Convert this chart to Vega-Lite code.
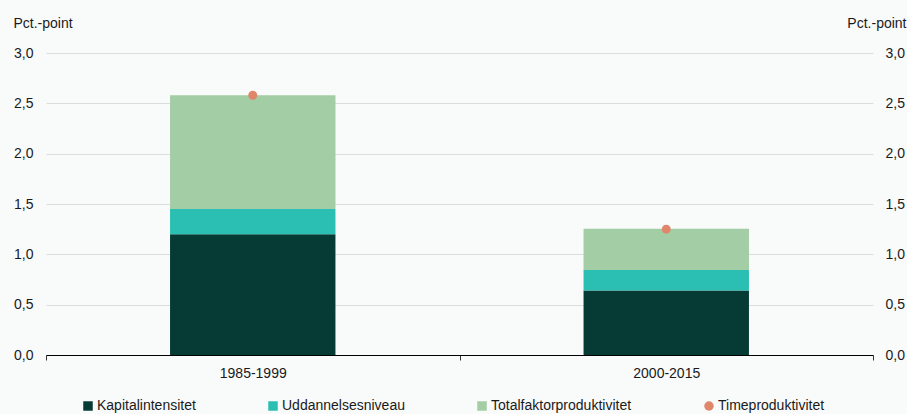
{
  "$schema": "https://vega.github.io/schema/vega-lite/v6.json",
  "width": 827,
  "height": 302,
  "autosize": {"type": "none"},
  "padding": {"left": 46, "top": 53, "right": 34, "bottom": 59},
  "background": "#f9fafa",
  "config": {
    "font": "Liberation Sans",
    "view": {"stroke": null},
    "axis": {"labelFont": "Liberation Sans", "titleFont": "Liberation Sans", "labelFontSize": 14, "titleFontSize": 14, "labelColor": "#1a1a1a", "titleColor": "#1a1a1a", "titleFontWeight": "normal"},
    "legend": {"labelFont": "Liberation Sans", "labelFontSize": 14, "labelColor": "#1a1a1a"}
  },
  "datasets": {
    "bars": [
      {"periode": "1985-1999", "serie": "Kapitalintensitet", "value": 1.20, "ord": 1},
      {"periode": "1985-1999", "serie": "Uddannelsesniveau", "value": 0.25, "ord": 2},
      {"periode": "1985-1999", "serie": "Totalfaktorproduktivitet", "value": 1.13, "ord": 3},
      {"periode": "2000-2015", "serie": "Kapitalintensitet", "value": 0.64, "ord": 1},
      {"periode": "2000-2015", "serie": "Uddannelsesniveau", "value": 0.205, "ord": 2},
      {"periode": "2000-2015", "serie": "Totalfaktorproduktivitet", "value": 0.41, "ord": 3}
    ],
    "dots": [
      {"periode": "1985-1999", "serie": "Timeproduktivitet", "value": 2.58},
      {"periode": "2000-2015", "serie": "Timeproduktivitet", "value": 1.25}
    ]
  },
  "encoding": {
    "x": {
      "field": "periode",
      "type": "nominal",
      "sort": ["1985-1999", "2000-2015"],
      "scale": {"paddingInner": 0, "paddingOuter": 0},
      "axis": {
        "title": null,
        "labelAngle": 0,
        "labelFontSize": 14,
        "tickBand": "extent",
        "grid": false,
        "domainColor": "#000000",
        "domainWidth": 1.2,
        "tickColor": "#333333",
        "tickSize": 5,
        "labelPadding": 6
      }
    }
  },
  "layer": [
    {
      "data": {"name": "bars"},
      "mark": {"type": "bar", "width": {"band": 0.4}},
      "encoding": {
        "y": {
          "field": "value",
          "type": "quantitative",
          "stack": "zero",
          "scale": {"domain": [0, 3], "nice": false, "zero": true},
          "axis": {
            "orient": "left",
            "values": [0, 0.5, 1, 1.5, 2, 2.5, 3],
            "labelExpr": "replace(format(datum.value, '.1f'), '.', ',')",
            "labelFontSize": 14,
            "domain": false,
            "ticks": false,
            "grid": true,
            "gridColor": "#dcdcdc",
            "labelPadding": 13,
            "title": "Pct.-point",
            "titleFontSize": 14,
            "titleAngle": 0,
            "titleAlign": "left",
            "titleBaseline": "alphabetic",
            "titleX": -33,
            "titleY": -26
          }
        },
        "color": {
          "field": "serie",
          "type": "nominal",
          "scale": {
            "domain": ["Kapitalintensitet", "Uddannelsesniveau", "Totalfaktorproduktivitet", "Timeproduktivitet"],
            "range": ["#053a35", "#2bbfb3", "#a2cda5", "#e0866a"]
          },
          "legend": {
            "title": null,
            "orient": "none",
            "legendX": 35,
            "legendY": 346,
            "direction": "horizontal",
            "columns": 4,
            "columnPadding": 70,
            "symbolType": "square",
            "symbolSize": 90,
            "symbolStrokeWidth": 0,
            "labelOffset": 2,
            "labelFontSize": 14,
            "encode": {
              "symbols": {
                "update": {
                  "shape": {"signal": "datum.label === 'Timeproduktivitet' ? 'circle' : 'square'"}
                }
              }
            }
          }
        },
        "order": {"field": "ord", "type": "quantitative"}
      }
    },
    {
      "data": {"name": "dots"},
      "mark": {"type": "point", "filled": true, "shape": "circle", "size": 80, "opacity": 1},
      "encoding": {
        "y": {
          "field": "value",
          "type": "quantitative",
          "scale": {"domain": [0, 3], "nice": false, "zero": true},
          "axis": {
            "orient": "right",
            "values": [0, 0.5, 1, 1.5, 2, 2.5, 3],
            "labelExpr": "replace(format(datum.value, '.1f'), '.', ',')",
            "labelFontSize": 14,
            "domain": false,
            "ticks": false,
            "grid": false,
            "labelPadding": 12,
            "title": "Pct.-point",
            "titleFontSize": 14,
            "titleAngle": 0,
            "titleAlign": "right",
            "titleBaseline": "alphabetic",
            "titleX": 33,
            "titleY": -26
          }
        },
        "color": {"field": "serie", "type": "nominal"}
      }
    }
  ],
  "resolve": {"scale": {"y": "independent"}}
}
